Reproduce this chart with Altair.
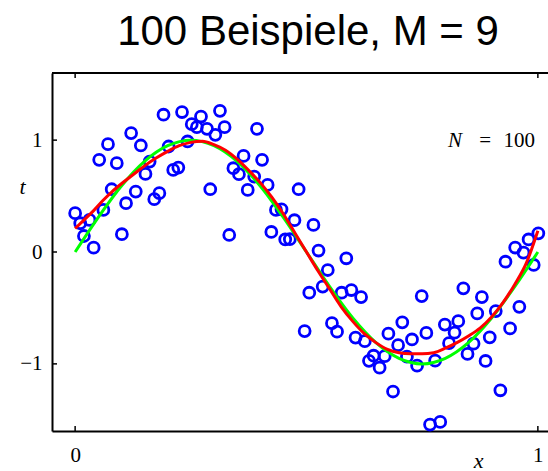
import altair as alt
import pandas as pd

# ---- observed samples (blue circles) ----
x_obs = [0.191, 0.231, 0.121, 0.142, 0.071, 0.052, 0.090, 0.202, 0.161, 0.152,
         0.212, 0.223, 0.079, 0.131, 0.110, 0.182, 0.171, 0.061, 0.000, 0.031,
         0.011, 0.019, 0.101, 0.040, 0.243, 0.272, 0.313, 0.252, 0.263, 0.285,
         0.303, 0.323, 0.393, 0.364, 0.404, 0.342, 0.354, 0.387, 0.416, 0.292,
         0.373, 0.483, 0.434, 0.446, 0.474, 0.424, 0.454, 0.464, 0.333, 0.515,
         0.526, 0.586, 0.546, 0.535, 0.506, 0.576, 0.597, 0.618, 0.496, 0.555,
         0.566, 0.606, 0.677, 0.707, 0.749, 0.839, 0.879, 0.626, 0.698, 0.728,
         0.759, 0.799, 0.828, 0.820, 0.808, 0.869, 0.861, 0.896, 0.645, 0.635,
         0.669, 0.658, 0.717, 0.739, 0.778, 0.848, 0.887, 0.687, 0.767, 0.789,
         1.001, 0.980, 0.951, 0.969, 0.930, 0.991, 0.960, 0.909, 0.940, 0.919]
t_obs = [1.227, 1.251, 1.063, 0.952, 0.964, 0.824, 0.794, 0.943, 0.808, 0.698,
         0.734, 0.755, 0.561, 0.540, 0.436, 0.526, 0.472, 0.376, 0.347, 0.287,
         0.257, 0.143, 0.159, 0.039, 0.988, 1.211, 1.262, 1.143, 1.116, 1.101,
         1.047, 1.116, 1.101, 0.859, 0.824, 0.749, 0.696, 0.674, 0.600, 0.561,
         0.555, 0.561, 0.376, 0.382, 0.284, 0.179, 0.112, 0.114, 0.152, 0.242,
         0.013, -0.056, -0.161, -0.309, -0.364, -0.364, -0.340, -0.403, -0.707, -0.636,
         -0.712, -0.765, -0.730, -0.629, -0.394, -0.325, -0.403, -0.797, -0.833, -0.782,
         -0.723, -0.649, -0.618, -0.721, -0.815, -0.549, -0.819, -0.763, -0.927, -0.973,
         -0.931, -1.034, -0.936, -1.016, -0.971, -0.911, -0.974, -1.247, -1.543, -1.519,
         0.167, 0.112, 0.040, -0.005, -0.087, -0.116, -0.490, -0.528, -0.683, -1.236]

# ---- green curve (underlying function) ----
x_true = [0.00, 0.05, 0.10, 0.15, 0.20, 0.25, 0.30, 0.35, 0.40, 0.45, 0.50,
          0.55, 0.60, 0.65, 0.70, 0.75, 0.80, 0.85, 0.90, 0.95, 1.00]
t_true = [0.00, 0.31, 0.59, 0.81, 0.95, 1.00, 0.95, 0.81, 0.59, 0.31, 0.00,
          -0.31, -0.59, -0.81, -0.95, -1.00, -0.95, -0.81, -0.59, -0.31, 0.00]

# ---- red curve (M = 9 fit) ----
x_fit = [0.00, 0.02, 0.04, 0.06, 0.08, 0.10, 0.125, 0.15, 0.175, 0.20, 0.225,
         0.25, 0.275, 0.30, 0.325, 0.35, 0.375, 0.40, 0.425, 0.45, 0.475, 0.50,
         0.525, 0.55, 0.575, 0.60, 0.625, 0.65, 0.675, 0.70, 0.725, 0.75, 0.775,
         0.80, 0.825, 0.85, 0.875, 0.90, 0.925, 0.95, 0.975, 1.00]
t_fit = [0.21, 0.29, 0.37, 0.46, 0.54, 0.61, 0.69, 0.77, 0.84, 0.90, 0.95,
         0.98, 0.99, 0.96, 0.91, 0.83, 0.73, 0.62, 0.49, 0.34, 0.17, 0.00,
         -0.17, -0.33, -0.49, -0.62, -0.73, -0.81, -0.87, -0.90, -0.91, -0.91, -0.90,
         -0.86, -0.81, -0.75, -0.68, -0.58, -0.45, -0.29, -0.10, 0.19]

x_ticks = [0, 1]
y_ticks = [-1, 0, 1]
x_domain = [-0.05, 1.05]
y_domain = [-1.6, 1.6]

title_text = ["100 Beispiele, M = 9"]
annot_x = [0.994]
annot_t = [0.99]
annot_sym = ["N"]
annot_eq = ["="]
annot_num = ["100"]

df_obs = pd.DataFrame({"x": x_obs, "t": t_obs})
df_true = pd.DataFrame({"x": x_true, "t": t_true})
df_fit = pd.DataFrame({"x": x_fit, "t": t_fit})
df_xt = pd.DataFrame({"x": x_ticks})
df_yt = pd.DataFrame({"t": y_ticks})
df_frame = pd.DataFrame({"x": [x_domain[0]], "x_end": [x_domain[1]]})
df_title = pd.DataFrame({"label": title_text})
df_ann = pd.DataFrame({"x": annot_x, "t": annot_t, "sym": annot_sym,
                       "eq": annot_eq, "num": annot_num})

W, H = 494, 358
SERIF = "Liberation Serif"

xscale = alt.Scale(domain=x_domain, range=[0, 509], nice=False, zero=False)
yscale = alt.Scale(domain=y_domain, nice=False, zero=False)

x_axis = alt.Axis(
    orient="bottom", values=x_ticks, format="d", grid=False,
    ticks=False, tickSize=0, domainColor="black", domainWidth=2,
    labelFont=SERIF, labelFontSize=21, labelColor="black",
    labelBaseline="alphabetic", labelPadding=30, labelFlush=False,
    title="x", titleFont=SERIF, titleFontStyle="italic", titleFontSize=22,
    titleFontWeight="normal", titleColor="black", titleAngle=0,
    titleX=426, titleY=36, titleAlign="center", titleBaseline="alphabetic",
)
y_axis = alt.Axis(
    orient="left", values=y_ticks, format="d", grid=False,
    ticks=False, tickSize=0, domainColor="black", domainWidth=2,
    labelFont=SERIF, labelFontSize=21, labelColor="black", labelPadding=10,
    title="t", titleFont=SERIF, titleFontStyle="italic", titleFontSize=22,
    titleFontWeight="normal", titleColor="black", titleAngle=0,
    titleX=-30, titleY=120, titleAlign="center", titleBaseline="alphabetic",
)

X = alt.X("x:Q", scale=xscale, axis=x_axis)
Y = alt.Y("t:Q", scale=yscale, axis=y_axis)

points = alt.Chart(df_obs).mark_point(
    shape="circle", filled=False, color="#0000FF", strokeWidth=2.8,
    size=120, opacity=1,
).encode(x=X, y=Y)

green = alt.Chart(df_true).mark_line(
    color="#00FF00", strokeWidth=3, interpolate="monotone",
).encode(x=X, y=Y)

red = alt.Chart(df_fit).mark_line(
    color="#FF0000", strokeWidth=3, interpolate="monotone",
).encode(x=X, y=Y)

# top edge of the frame, spanning the full x domain
frame_top = alt.Chart(df_frame).mark_rule(color="black", strokeWidth=2).encode(
    x=X, x2="x_end:Q", y=alt.value(0),
)

# inward ticks
xt_bottom = alt.Chart(df_xt).mark_rule(color="black", strokeWidth=1.5).encode(
    x=X, y=alt.value(H), y2=alt.value(H - 5),
)
xt_top = alt.Chart(df_xt).mark_rule(color="black", strokeWidth=1.5).encode(
    x=X, y=alt.value(0), y2=alt.value(5),
)
yt_left = alt.Chart(df_yt).mark_rule(color="black", strokeWidth=1.5).encode(
    y=Y, x=alt.value(0), x2=alt.value(5),
)

ann_base = alt.Chart(df_ann).encode(x=X, y=Y)
ann_num = ann_base.mark_text(align="right", baseline="middle", font=SERIF,
                             fontSize=21, color="black").encode(text="num:N")
ann_eq = ann_base.mark_text(align="center", baseline="middle", font=SERIF,
                            fontSize=21, color="black", dx=-50).encode(text="eq:N")
ann_sym = ann_base.mark_text(align="center", baseline="middle", font=SERIF,
                             fontSize=21, fontStyle="italic", color="black",
                             dx=-80).encode(text="sym:N")

# chart title, centred over the full (cropped) frame
title = alt.Chart(df_title).mark_text(
    align="center", baseline="alphabetic", font="Liberation Sans",
    fontSize=42, color="black",
).encode(x=alt.value(256), y=alt.value(-28), text="label:N")

chart = alt.layer(
    points, green, red, frame_top, xt_bottom, xt_top, yt_left,
    ann_num, ann_eq, ann_sym, title
).properties(
    width=W, height=H,
    autosize=alt.AutoSizeParams(type="none"),
    padding={"left": 52, "top": 73, "right": 2, "bottom": 40},
).configure_view(strokeWidth=0)

chart.save("out.html", embed_options={"renderer": "svg", "actions": False})
